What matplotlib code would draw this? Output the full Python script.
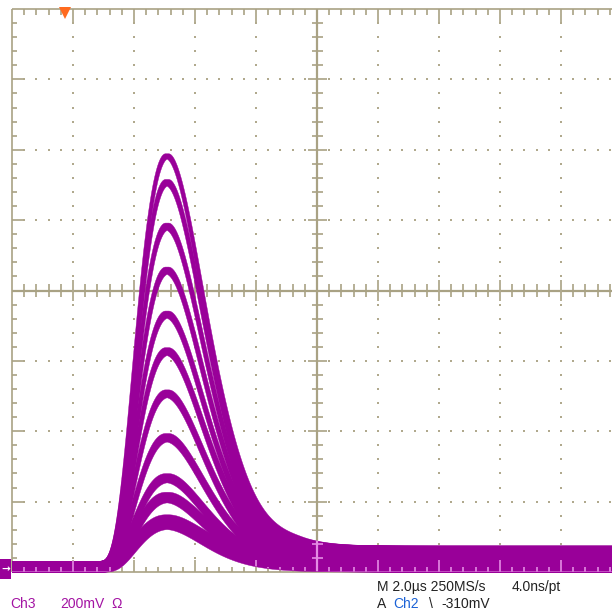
import numpy as np
import matplotlib
matplotlib.use("Agg")
import matplotlib.pyplot as plt
from matplotlib.collections import LineCollection
from matplotlib.patches import Polygon, Rectangle
from matplotlib import font_manager

# ---- acquisition settings -------------------------------------------------
TIME_PER_DIV_US = 2.0          # horizontal scale
VOLT_PER_DIV_MV = 200.0        # Ch3 vertical scale
GROUND_DIV = -3.91             # Ch3 ground level, in divisions from centre
TRIGGER_US = 1.75              # trigger position marker

# ---- pulse family on Ch3 --------------------------------------------------
pulse_amplitudes_mv = [1165, 1090, 965, 840, 715, 610, 490, 365, 250, 195, 125]
# half-width of each persistence band around its pulse
pulse_band_mv = [7, 9, 10, 10, 10, 11, 11, 12, 13, 15, 21]
pulse_start_us = 2.85          # start of the shaped pulse
pulse_tau_us = 2.22            # shaping time constant (peak at start + tau)
shaping_order = 4              # CR-RC^4 semi-gaussian
timing_jitter_us = 0.05
noise_low_mv = 17.0            # baseline band, below ground
noise_high_pre_mv = 14.0       # baseline band above ground, before the pulse
noise_high_post_mv = 57.0      # baseline band above ground, after the pulse
noise_ramp_us = (7.0, 9.5)

# ---- readout text -----------------------------------------------------------
ch_label = "Ch3"
ch_scale = "200mV"
ch_coupling = "\u03a9"
timebase = "M 2.0\u00b5s 250MS/s"
resolution = "4.0ns/pt"
trig_prefix = "A"
trig_source = "Ch2"
trig_slope = "\\"
trig_level = "-310mV"

W, H = 612, 613
fig = plt.figure(figsize=(W / 100, H / 100), dpi=100)
fig.patch.set_facecolor("white")

# graticule box in pixels (right edge runs past the canvas)
GL, GR, GT, GB = 12, 622, 9, 572
ax = fig.add_axes([GL / W, 1 - GB / H, (GR - GL) / W, (GB - GT) / H])
ax.set_xlim(0, 10 * TIME_PER_DIV_US)
ax.set_ylim(-4, 4)
ax.axis("off")

px_x = (10 * TIME_PER_DIV_US) / (GR - GL)   # us per pixel
px_y = 8.0 / (GB - GT)                        # div per pixel

GRID = "#a9a284"
DOT = "#b0a98d"
TRACE = "#990099"
OVER = "#e48ce4"


def graticule_segments(bottom_only=False):
    segs_thin, segs_thick = [], []
    xmaj = TIME_PER_DIV_US
    xmin = xmaj / 5
    xend = 10 * xmaj
    # border
    if not bottom_only:
        segs_thin += [[(0, -4), (0, 4)], [(0, 4), (xend, 4)], [(xend, -4), (xend, 4)]]
    segs_thin += [[(0, -4), (xend, -4)]]
    # centre cross
    if bottom_only:
        segs_thick += [[(xend / 2, -4), (xend / 2, -3.55)]]
    else:
        segs_thick += [[(xend / 2, -4), (xend / 2, 4)], [(0, 0), (xend, 0)]]
    # ticks along the horizontal edges and centre line
    for k in range(1, 50):
        x = k * xmin
        major = (k % 5 == 0)
        if bottom_only:
            segs_thin.append([(x, -4), (x, -4 + (12 if major else 5) * px_y)])
            continue
        segs_thin.append([(x, 4), (x, 4 - (14 if major else 6) * px_y)])
        segs_thin.append([(x, -4), (x, -4 + (12 if major else 5) * px_y)])
        h = (10.7 if major else 6.2) * px_y
        segs_thin.append([(x, -h), (x, h)])
    # ticks along the left edge and centre vertical line
    for k in range(-19, 20):
        y = k * 0.2
        if k == 0:
            continue
        major = (k % 5 == 0)
        w = (9.5 if major else 5.5) * px_x
        if bottom_only:
            if y < -3.55:
                segs_thin.append([(xend / 2 - w, y), (xend / 2 + w, y)])
            continue
        segs_thin.append([(0, y), ((12 if major else 5) * px_x, y)])
        segs_thin.append([(xend / 2 - w, y), (xend / 2 + w, y)])
    return segs_thin, segs_thick


thin, thick = graticule_segments()
ax.add_collection(LineCollection(thin, colors=GRID, linewidths=1.2, zorder=1,
                                 clip_on=False, capstyle="butt"))
ax.add_collection(LineCollection(thick, colors=GRID, linewidths=1.6, zorder=1,
                                 clip_on=False, capstyle="butt"))

# dotted major grid
dx, dy = [], []
for j in list(range(1, 5)) + list(range(6, 10)):
    for k in range(-19, 20):
        dx.append(j * TIME_PER_DIV_US)
        dy.append(k * 0.2)
for j in [-3, -2, -1, 1, 2, 3]:
    for k in range(1, 50):
        if k % 5:
            dx.append(k * TIME_PER_DIV_US / 5)
            dy.append(j)
ax.scatter(dx, dy, marker="s", s=2.0, c=DOT, linewidths=0, zorder=1)

# ---- traces ---------------------------------------------------------------
t = np.linspace(0, 10 * TIME_PER_DIV_US, 6000)


def shape(tt):
    x = np.clip((tt - pulse_start_us) / pulse_tau_us, 0, None)
    return (x * np.exp(1 - x)) ** shaping_order


shifted = np.vstack([shape(t + d) for d in np.linspace(-timing_jitter_us, timing_jitter_us, 7)])
s_hi = shifted.max(axis=0)
s_lo = shifted.min(axis=0)
s_mid = shape(t)

ramp = np.clip((t - noise_ramp_us[0]) / (noise_ramp_us[1] - noise_ramp_us[0]), 0, 1)
ramp = ramp * ramp * (3 - 2 * ramp)
base_hi = noise_high_pre_mv + (noise_high_post_mv - noise_high_pre_mv) * ramp
# blend from baseline band to the band along the pulse
w_base = (1 - s_mid) ** 6


def to_div(mv):
    return GROUND_DIV + mv / VOLT_PER_DIV_MV


uppers, lowers = [], []
for a, bw in zip(pulse_amplitudes_mv, pulse_band_mv):
    hi_n = bw + (base_hi - bw) * w_base
    lo_n = bw + (noise_low_mv - bw) * w_base
    up = to_div(a * s_hi + hi_n)
    lo = to_div(a * s_lo - lo_n)
    uppers.append(up)
    lowers.append(lo)
    ax.fill_between(t, lo, up, color=TRACE, linewidth=0.3, edgecolor=TRACE,
                    zorder=2, clip_on=False)

# graticule seen through the baseline band
band_top = np.max(uppers, axis=0)
band_bot = lowers[int(np.argmin(pulse_amplitudes_mv))]
poly = Polygon(np.column_stack([np.r_[t, t[::-1]], np.r_[band_bot, band_top[::-1]]]),
               closed=True, transform=ax.transData, facecolor="none", edgecolor="none")
ax.add_patch(poly)
othin, othick = graticule_segments(bottom_only=True)
for segs, lw in [(othin, 1.2), (othick, 1.6)]:
    lc = LineCollection(segs, colors=OVER, linewidths=lw, zorder=3, clip_on=True,
                        capstyle="butt")
    ax.add_collection(lc)
    lc.set_clip_path(poly)

# trigger position marker
ax.plot([TRIGGER_US], [4 - 3.5 * px_y], marker="v", markersize=8.5, color="#ff6a1f",
        markeredgewidth=0, zorder=4, clip_on=False)

# ground reference marker
fig.patches.append(Rectangle((0, 1 - 579 / H), 11 / W, 20 / H, transform=fig.transFigure,
                             facecolor=TRACE, edgecolor="none", zorder=5))
fig.text(5.5 / W, 1 - 569.5 / H, "\u2192", color="white", fontsize=7.5, ha="center",
         va="center", family="DejaVu Sans", fontweight="bold", zorder=6)

# ---- readout ---------------------------------------------------------------
names = {f.name for f in font_manager.fontManager.ttflist}
FONT = "Liberation Sans" if "Liberation Sans" in names else "DejaVu Sans"
PURPLE_TXT = "#a313a3"
BLUE_TXT = "#1b62d6"
DARK = "#222222"


def put(xp, yp, s, color, **kw):
    fig.text(xp / W, 1 - yp / H, s, color=color, fontsize=10, family=FONT,
             ha="left", va="baseline", **kw)


put(377, 591, timebase, DARK)
put(512, 591, resolution, DARK)
put(377, 608, trig_prefix, DARK)
put(393, 608, trig_source, BLUE_TXT)
put(429, 608, trig_slope, DARK)
put(441, 608, trig_level, DARK)
put(10, 608, ch_label, PURPLE_TXT)
put(60, 608, ch_scale, PURPLE_TXT)
put(111, 608, ch_coupling, PURPLE_TXT)

fig.savefig("out.png", dpi=100, facecolor="white")
